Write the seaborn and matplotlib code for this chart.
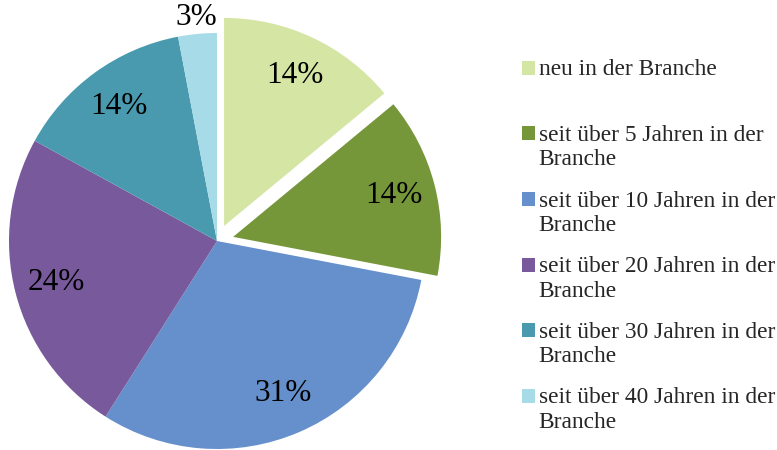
import matplotlib
matplotlib.use("Agg")
import matplotlib.pyplot as plt
from matplotlib.patches import Rectangle
from matplotlib.legend_handler import HandlerPatch
import numpy as np
import seaborn as sns

sns.set_theme(style="white")
plt.rcParams["font.family"] = ["Liberation Serif", "DejaVu Serif"]

# Share of respondents by years in the industry
categories = [
    "neu in der Branche\n ",
    "seit über 5 Jahren in der\nBranche",
    "seit über 10 Jahren in der\nBranche",
    "seit über 20 Jahren in der\nBranche",
    "seit über 30 Jahren in der\nBranche",
    "seit über 40 Jahren in der\nBranche",
]
shares = [14, 14, 31, 24, 14, 3]
colors = ["#D5E5A3", "#76963A", "#6690CC", "#785A9C", "#4A9AAF", "#A7DBE8"]
explode = [0.08, 0.08, 0, 0, 0, 0]

W, H = 777, 450
fig = plt.figure(figsize=(W / 100, H / 100), dpi=100)
cx, cy, r = 217, 241, 208
ax = fig.add_axes([(cx - r) / W, (H - cy - r) / H, 2 * r / W, 2 * r / H])
ax.set_aspect("equal")
ax.axis("off")

wedges, texts, autotexts = ax.pie(
    shares,
    colors=colors,
    explode=explode,
    startangle=90,
    counterclock=False,
    radius=1,
    autopct=lambda p: f"{p:.0f}%",
    pctdistance=0.8,
    textprops=dict(fontsize=22.5, color="black"),
    wedgeprops=dict(linewidth=0),
    frame=False,
)
for w in wedges:
    w.set_clip_on(False)

# Move the smallest slice's label just outside the rim
w = wedges[-1]
ang = np.deg2rad((w.theta1 + w.theta2) / 2)
autotexts[-1].set_position((1.08 * np.cos(ang), 1.08 * np.sin(ang)))
autotexts[-1].set_clip_on(False)
ax.set_xlim(-1, 1)
ax.set_ylim(-1, 1)


def top_square(legend, orig_handle, xdescent, ydescent, width, height, fontsize):
    # place the key square beside the first line of a two-line label
    return Rectangle((-xdescent, -ydescent + 0.6 * fontsize), width, height)


leg = fig.legend(
    wedges,
    categories,
    loc="upper left",
    bbox_to_anchor=(513 / W, 1 - 50 / H),
    frameon=False,
    fontsize=16.8,
    handlelength=0.55,
    handleheight=0.55,
    handletextpad=0.15,
    labelspacing=0.86,
    borderaxespad=0,
    handler_map={w: HandlerPatch(patch_func=top_square) for w in wedges},
)
for t in leg.get_texts():
    t.set_linespacing(1.22)

fig.savefig("out.png", dpi=100, facecolor="white")
